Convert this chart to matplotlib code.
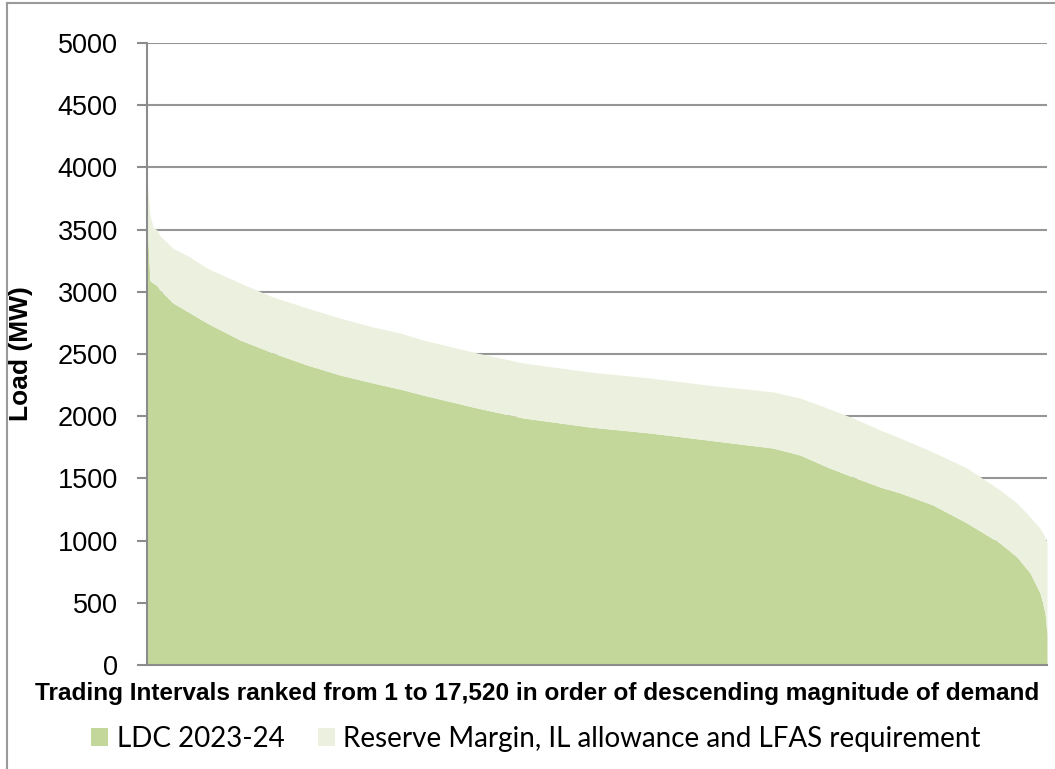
import matplotlib
matplotlib.use("Agg")
import matplotlib.pyplot as plt
from matplotlib.patches import Patch
from matplotlib.lines import Line2D

# Load duration curve (rank of trading interval -> MW)
rank = [0, 19, 58, 117, 195, 253, 506, 837, 1168, 1810, 2453, 3115, 3757,
        4400, 4925, 5373, 6424, 7320, 8624, 9792, 10901, 12186, 12712, 13237,
        13743, 14269, 14659, 15301, 15963, 16605, 16936, 17190, 17384, 17482,
        17520]
ldc = [3650, 3400, 3090, 3070, 3050, 3014, 2910, 2830, 2749, 2613, 2508, 2412,
       2331, 2267, 2218, 2170, 2066, 1986, 1913, 1865, 1809, 1744, 1688, 1592,
       1511, 1431, 1383, 1286, 1141, 980, 868, 740, 579, 418, 250]
reserve = [300, 400, 530, 450, 447, 436, 440, 450, 441, 458, 450, 458, 458,
           450, 451, 443, 442, 442, 442, 442, 442, 451, 458, 474, 475, 458,
           442, 426, 442, 427, 434, 450, 521, 612, 730]

labels = ["LDC 2023-24", "Reserve Margin, IL allowance and LFAS requirement"]
colors = ["#c4d79b", "#ebf1de"]
yticks = list(range(0, 5001, 500))

W, H = 1055, 769
fig = plt.figure(figsize=(W / 100, H / 100), dpi=100)
ax = fig.add_axes([147 / W, 1 - 665 / H, 900 / W, 622 / H])

top = [a + b for a, b in zip(ldc, reserve)]
ax.fill_between(rank, 0, ldc, color=colors[0], linewidth=0, zorder=2)
ax.fill_between(rank, ldc, top, color=colors[1], linewidth=0, zorder=2)

ax.set_xlim(0, 17520)
ax.set_ylim(0, 5000)
ax.set_yticks(yticks)
ax.set_xticks([])
ax.grid(axis="y", color="#969696", linewidth=1.5, zorder=1)
ax.set_axisbelow(True)
for s in ["top", "right"]:
    ax.spines[s].set_visible(False)
for s in ["left", "bottom"]:
    ax.spines[s].set_color("#8c8c8c")
    ax.spines[s].set_linewidth(1.5)
    ax.spines[s].set_zorder(3)
ax.tick_params(axis="y", length=7, width=1.5, color="#8c8c8c", pad=14,
               labelsize=19.5)
for t in ax.get_yticklabels():
    t.set_family(["Liberation Sans", "DejaVu Sans"])

ax.set_ylabel("Load (MW)", fontsize=19, fontweight="bold",
              family=["Liberation Sans", "DejaVu Sans"])
ax.yaxis.set_label_coords((33 - 147) / 900, 0.5)

fig.text(537 / W, 1 - 700 / H,
         "Trading Intervals ranked from 1 to 17,520 in order of descending magnitude of demand",
         ha="center", va="baseline", fontsize=17.6, fontweight="bold",
         family=["Liberation Sans", "DejaVu Sans"])

handles = [Patch(facecolor=c, edgecolor="none") for c in colors]
fig.legend(handles, labels, loc="center", ncol=2, frameon=False,
           bbox_to_anchor=(536 / W, 1 - 739 / H),
           prop={"family": "Lato", "size": 20},
           handlelength=0.62, handleheight=0.62, handletextpad=0.3,
           columnspacing=1.2)

# outer chart border (left and top edges visible)
fig.add_artist(Line2D([7 / W, 7 / W], [0, 1 - 3 / H], transform=fig.transFigure,
                      color="#9a9a9a", linewidth=1.5))
fig.add_artist(Line2D([7 / W, 1], [1 - 3 / H, 1 - 3 / H], transform=fig.transFigure,
                      color="#9a9a9a", linewidth=1.5))

fig.savefig("out.png", dpi=100)
